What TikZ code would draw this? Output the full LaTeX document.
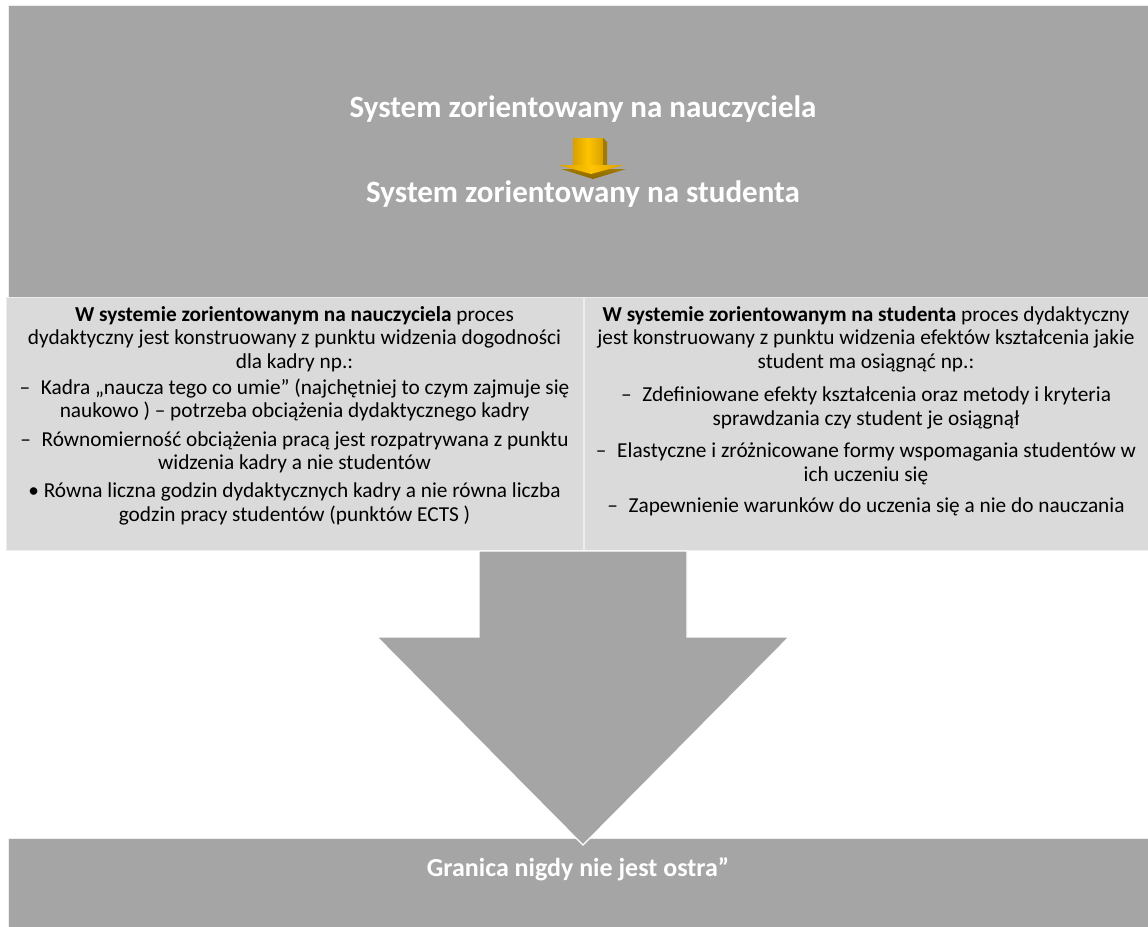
\documentclass[tikz,border=0pt]{standalone}
\usepackage{fontspec}
\setmainfont{Carlito}
\definecolor{boxgray}{HTML}{A5A5A5}
\definecolor{boxlight}{HTML}{DADADA}
\definecolor{boxedge}{HTML}{EDEDED}
\definecolor{goldA}{HTML}{FFC400}
\definecolor{goldB}{HTML}{D9A000}
\definecolor{goldSide}{HTML}{A27A00}
\definecolor{goldDark}{HTML}{8A6700}
\begin{document}
\begin{tikzpicture}[x=1pt,y=-1pt,
  body/.style={font=\fontsize{21.3}{23.5}\selectfont, align=center, inner sep=0pt, text=black},
  headline/.style={font=\fontsize{31}{37}\selectfont\bfseries, text=white, inner sep=0pt},
  footline/.style={font=\fontsize{26}{31}\selectfont\bfseries, text=white, inner sep=0pt},
  darkpanel/.style={fill=boxgray, draw=boxedge, line width=0.8pt},
  lightpanel/.style={fill=boxlight, draw=boxedge, line width=0.8pt},
  bigarrow/.style={fill=boxgray, draw=white, line width=1.2pt, line join=miter}]
\useasboundingbox (0,0) rectangle (1148,926);
\fill[white] (0,0) rectangle (1148,926);

% top panel
\path[darkpanel] (8,5) rectangle (1149,297);
% bottom panel
\path[darkpanel] (8,838) rectangle (1149,927);
% two light panels
\path[lightpanel] (6,297) rectangle (583,550);
\path[lightpanel] (584,297) rectangle (1149,550);

% big arrow
\path[bigarrow] (479,551) -- (687,551) -- (687,637) -- (789,637) -- (583,845)
  -- (377,637) -- (479,637) -- cycle;

% small golden arrow
\shade[left color=goldB, right color=goldB, middle color=goldA] (573,138) rectangle (603,165);
\fill[goldSide] (603,138) -- (607,142) -- (607,165) -- (603,165) -- cycle;
\shade[top color=goldSide, bottom color=goldDark] (561,169) -- (626,169) -- (593,179) -- cycle;
\shade[left color=goldB, right color=goldB, middle color=goldA] (558,165) -- (624,165) -- (591,174) -- cycle;

% titles
\node[headline] (t1) at (583,109.6) {\strut System zorientowany na nauczyciela};
\node[headline] (t2) at (583,194.6) {\strut System zorientowany na studenta};

% left column
\node[body] (l0) at (294.5,340) {\strut\textbf{W systemie zorientowanym na nauczyciela} proces\\
  \strut dydaktyczny jest konstruowany z punktu widzenia dogodności\\
  \strut dla kadry np.:};
\node[body] (l1) at (294.5,401.5) {\strut –\enspace Kadra „naucza tego co umie” (najchętniej to czym zajmuje się\\
  \strut naukowo ) – potrzeba obciążenia dydaktycznego kadry};
\node[body] (l2) at (294.5,453.5) {\strut –\enspace Równomierność obciążenia pracą jest rozpatrywana z punktu\\
  \strut widzenia kadry a nie studentów};
\node[body] (l3) at (294.5,505) {\strut • Równa liczna godzin dydaktycznych kadry a nie równa liczba\\
  \strut godzin pracy studentów (punktów ECTS )};

% right column
\node[body] (r0) at (866,340) {\strut\textbf{W systemie zorientowanym na studenta} proces dydaktyczny\\
  \strut jest konstruowany z punktu widzenia efektów kształcenia jakie\\
  \strut student ma osiągnąć np.:};
\node[body] (r1) at (866,409) {\strut –\enspace Zdefiniowane efekty kształcenia oraz metody i kryteria\\
  \strut sprawdzania czy student je osiągnął};
\node[body] (r2) at (866,465) {\strut –\enspace Elastyczne i zróżnicowane formy wspomagania studentów w\\
  \strut ich uczeniu się};
\node[body] (r3) at (866,508) {\strut –\enspace Zapewnienie warunków do uczenia się a nie do nauczania};

% bottom label
\node[footline] (g) at (578,870) {\strut Granica nigdy nie jest ostra”};
\end{tikzpicture}
\end{document}
